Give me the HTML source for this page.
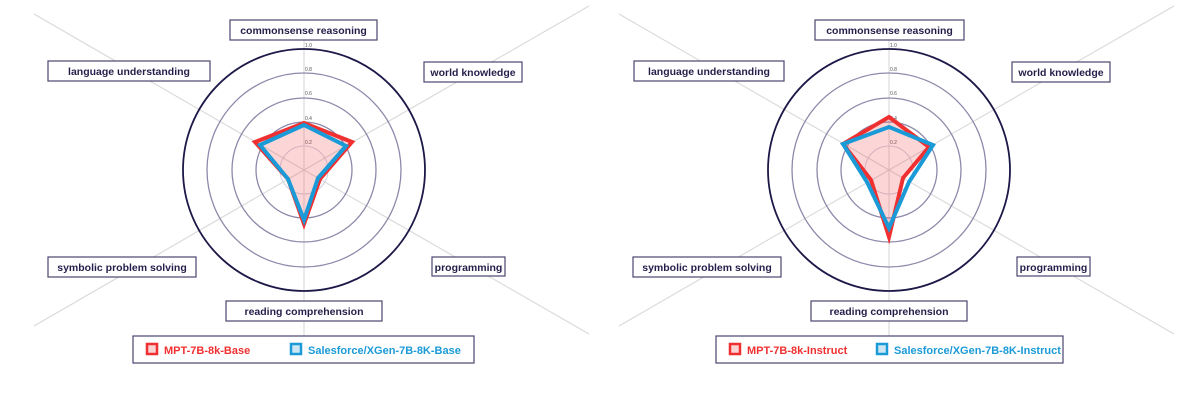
<!DOCTYPE html>
<html><head><meta charset="utf-8"><style>
html,body{margin:0;padding:0;background:#fff;}
svg{display:block;}
text{font-family:"Liberation Sans",sans-serif;}
.lab{font-size:10.5px;font-weight:bold;fill:#241f4a;}
.box{fill:#fff;stroke:#4a4670;stroke-width:1.2;}
.ring{fill:none;stroke:#8d89aa;stroke-width:1.3;}
.tick{font-size:5px;fill:#555;}
.leg{font-size:11px;font-weight:bold;}
</style></head><body>
<svg width="1200" height="401" viewBox="0 0 1200 401" xmlns="http://www.w3.org/2000/svg">
<defs>
<g id="base">
  <g stroke="#d9d9d9" stroke-width="1.1">
    <line x1="0" y1="0" x2="285" y2="-164"/>
    <line x1="0" y1="0" x2="-270" y2="-156"/>
    <line x1="0" y1="0" x2="285" y2="164"/>
    <line x1="0" y1="0" x2="-270" y2="156"/>
    <line x1="0" y1="0" x2="0" y2="-135"/>
    <line x1="0" y1="0" x2="0" y2="175"/>
  </g>
  <circle r="24" fill="none" stroke="#cfcde0" stroke-width="1"/>
  <circle r="48" class="ring"/>
  <circle r="72" class="ring"/>
  <circle r="97" class="ring"/>
  <circle r="121" fill="none" stroke="#1c1848" stroke-width="1.8"/>
  <text class="tick" x="1" y="-123">1.0</text>
  <text class="tick" x="1" y="-99">0.8</text>
  <text class="tick" x="1" y="-75">0.6</text>
  <text class="tick" x="1" y="-50">0.4</text>
  <text class="tick" x="1" y="-26">0.2</text>
</g>
</defs>

<g transform="translate(304,170)">
  <use href="#base"/>
  <polygon points="0,-47 48,-28 16,9 0,54 -16,9 -49,-28" fill="rgba(240,70,70,0.22)" stroke="#f03030" stroke-width="4"/>
  <polygon points="0,-45 42,-24 14,8 0,50 -16,9 -44,-25" fill="none" stroke="#1b9ad8" stroke-width="4"/>
</g>
<g>
  <rect class="box" x="230" y="20" width="147" height="20"/><text class="lab" x="303.5" y="34" text-anchor="middle">commonsense reasoning</text>
  <rect class="box" x="48" y="61" width="162" height="20"/><text class="lab" x="129" y="75" text-anchor="middle">language understanding</text>
  <rect class="box" x="424" y="62" width="98" height="20"/><text class="lab" x="473" y="76" text-anchor="middle">world knowledge</text>
  <rect class="box" x="432" y="257" width="73" height="19"/><text class="lab" x="468.5" y="271" text-anchor="middle">programming</text>
  <rect class="box" x="48" y="257" width="148" height="20"/><text class="lab" x="122" y="271" text-anchor="middle">symbolic problem solving</text>
  <rect class="box" x="226" y="301" width="156" height="20"/><text class="lab" x="304" y="315" text-anchor="middle">reading comprehension</text>
  <rect class="box" x="133" y="336" width="341" height="27"/>
  <rect x="147" y="344" width="10" height="10" fill="#fbd3d3" stroke="#f03030" stroke-width="2.5"/>
  <text class="leg" x="164" y="354" fill="#f03030">MPT-7B-8k-Base</text>
  <rect x="291" y="344" width="10" height="10" fill="#cde6f4" stroke="#1b9ad8" stroke-width="2.5"/>
  <text class="leg" x="308" y="354" fill="#1b9ad8">Salesforce/XGen-7B-8K-Base</text>
</g>

<g transform="translate(889,170)">
  <use href="#base"/>
  <polygon points="0,-53 40,-23 14,8 0,67 -18,10 -46,-26" fill="rgba(240,70,70,0.22)" stroke="#f03030" stroke-width="4"/>
  <polygon points="0,-43 44,-25 20,12 0,58 -22,12 -46,-26" fill="none" stroke="#1b9ad8" stroke-width="4"/>
</g>
<g>
  <rect class="box" x="815" y="20" width="149" height="20"/><text class="lab" x="889.5" y="34" text-anchor="middle">commonsense reasoning</text>
  <rect class="box" x="634" y="61" width="150" height="20"/><text class="lab" x="709" y="75" text-anchor="middle">language understanding</text>
  <rect class="box" x="1012" y="62" width="98" height="20"/><text class="lab" x="1061" y="76" text-anchor="middle">world knowledge</text>
  <rect class="box" x="1017" y="257" width="73" height="19"/><text class="lab" x="1053.5" y="271" text-anchor="middle">programming</text>
  <rect class="box" x="633" y="257" width="148" height="20"/><text class="lab" x="707" y="271" text-anchor="middle">symbolic problem solving</text>
  <rect class="box" x="811" y="301" width="156" height="20"/><text class="lab" x="889" y="315" text-anchor="middle">reading comprehension</text>
  <rect class="box" x="716" y="336" width="347" height="27"/>
  <rect x="730" y="344" width="10" height="10" fill="#fbd3d3" stroke="#f03030" stroke-width="2.5"/>
  <text class="leg" x="747" y="354" fill="#f03030">MPT-7B-8k-Instruct</text>
  <rect x="877" y="344" width="10" height="10" fill="#cde6f4" stroke="#1b9ad8" stroke-width="2.5"/>
  <text class="leg" x="894" y="354" fill="#1b9ad8">Salesforce/XGen-7B-8K-Instruct</text>
</g>
</svg>
</body></html>
